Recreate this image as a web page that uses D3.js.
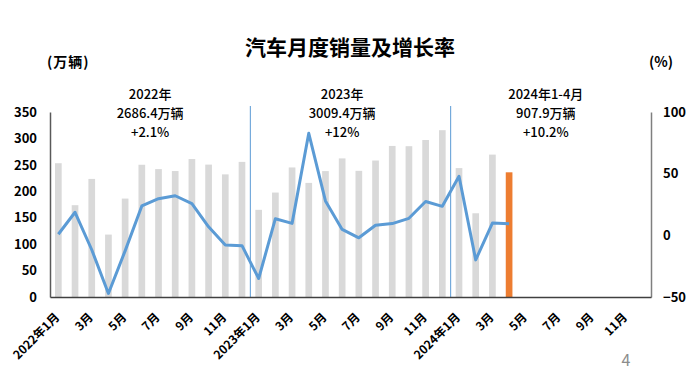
<!DOCTYPE html>
<html><head><meta charset="utf-8">
<script src="https://cdn.jsdelivr.net/npm/d3@7"></script>
<style>
body{margin:0;background:#fff;}
text{font-family:"Noto Sans CJK SC","Noto Sans",sans-serif;}
</style></head>
<body><svg id="c" width="699" height="381"></svg>
<script>
const months = [];
[2022, 2023, 2024].forEach(y => { for (let m = 1; m <= 12; m++) months.push(y + "-" + m); });
const tickLabels = ["2022年1月","3月","5月","7月","9月","11月","2023年1月","3月","5月","7月","9月","11月","2024年1月","3月","5月","7月","9月","11月"];
const sales = [253.1,173.7,223.4,118.1,186.2,250.2,242.0,238.3,261.0,250.5,232.0,255.6,
               164.9,197.6,245.1,215.9,238.2,262.2,238.7,258.2,285.8,285.3,297.0,315.6,
               243.9,158.4,269.4,235.9];
const growth = [0.9,18.7,-11.7,-47.1,-12.6,23.8,29.7,32.1,25.7,6.9,-7.9,-8.4,
                -35.0,13.5,9.7,82.7,27.9,4.8,-2.0,8.2,9.5,13.8,27.4,23.5,
                47.9,-19.9,9.9,9.3];
const leftTicks = [0,50,100,150,200,250,300,350];
const rightTicks = [-50,0,50,100];
const yearNotes = [
  {pos:5.5, lines:["2022年","2686.4万辆","+2.1%"]},
  {pos:17, lines:["2023年","3009.4万辆","+12%"]},
  {pos:29.2, lines:["2024年1-4月","907.9万辆","+10.2%"]}
];

const svg = d3.select("#c");
const L = 50, R = 651, T = 112, B = 297;
const x = d3.scaleBand().domain(months).range([L, R]).paddingInner(0.6).paddingOuter(0.3);
const yL = d3.scaleLinear().domain([0, 350]).range([B, T]);
const yR = d3.scaleLinear().domain([-50, 100]).range([B, T]);
const cx = i => x(months[i]) + x.bandwidth() / 2;
const posX = p => L + x.step() * (p + 0.5);

// title
svg.append("text").attr("x", 350).attr("y", 55).attr("text-anchor", "middle")
  .attr("font-size", 21).attr("font-weight", "bold").attr("fill", "#000").text("汽车月度销量及增长率");
svg.append("text").attr("x", 47).attr("y", 67).attr("font-size", 14).attr("font-weight", "bold")
  .attr("letter-spacing", 1).attr("fill", "#000").text("(万辆)");
svg.append("text").attr("x", 649).attr("y", 67).attr("font-size", 14).attr("font-weight", "bold").attr("fill", "#000").text("(%)");

// bars
svg.append("g").selectAll("rect").data(sales).join("rect")
  .attr("x", (d, i) => x(months[i])).attr("width", x.bandwidth())
  .attr("y", d => yL(d)).attr("height", d => B - yL(d))
  .attr("fill", (d, i) => i === sales.length - 1 ? "#ED7D31" : "#D9D9D9");

// year dividers
[12, 24].forEach(i => {
  const mid = (cx(i - 1) + cx(i)) / 2;
  svg.append("line").attr("x1", mid).attr("x2", mid).attr("y1", 106).attr("y2", B)
    .attr("stroke", "#5B9BD5").attr("stroke-width", 1);
});

// growth line
svg.append("path").datum(growth)
  .attr("d", d3.line().x((d, i) => cx(i)).y(d => yR(d)))
  .attr("fill", "none").attr("stroke", "#5B9BD5").attr("stroke-width", 3).attr("stroke-linejoin", "round");

// axes
const axL = svg.append("g").attr("transform", `translate(${L},0)`)
  .call(d3.axisLeft(yL).tickValues(leftTicks).tickSize(0).tickPadding(13));
axL.select(".domain").attr("stroke", "#595959").attr("stroke-width", 1.5);
const axR = svg.append("g").attr("transform", `translate(${R},0)`)
  .call(d3.axisRight(yR).tickValues(rightTicks).tickSize(0).tickPadding(12));
axR.select(".domain").attr("stroke", "#7f7f7f").attr("stroke-width", 1.5);
[axL, axR].forEach(a => a.selectAll("text").attr("font-size", 13).attr("font-weight", "bold")
  .attr("fill", "#000").attr("font-family", '"Noto Sans CJK SC",sans-serif'));

const tickMonths = months.filter((m, i) => i % 2 === 0);
const axB = svg.append("g").attr("transform", `translate(0,${B})`)
  .call(d3.axisBottom(x).tickValues(tickMonths).tickSize(0)
    .tickFormat((d) => tickLabels[tickMonths.indexOf(d)]));
axB.select(".domain").attr("stroke", "#404040").attr("stroke-width", 1.5);
axB.selectAll("text").attr("font-size", 12).attr("font-weight", "bold").attr("fill", "#000")
  .attr("font-family", '"Noto Sans CJK SC",sans-serif')
  .attr("text-anchor", "end").attr("dy", 0).attr("y", 0)
  .attr("transform", "translate(2,21) rotate(-45)");

// year notes
yearNotes.forEach(n => {
  const xx = posX(n.pos);
  n.lines.forEach((s, k) => svg.append("text").attr("x", xx).attr("y", 99 + k * 19)
    .attr("text-anchor", "middle").attr("font-size", 13).attr("font-weight", 500)
    .attr("fill", "#000").text(s));
});

// page number
svg.append("text").attr("x", 626).attr("y", 366).attr("text-anchor", "middle").attr("font-size", 16)
  .attr("fill", "#8c8c8c").text("4");
</script></body></html>
